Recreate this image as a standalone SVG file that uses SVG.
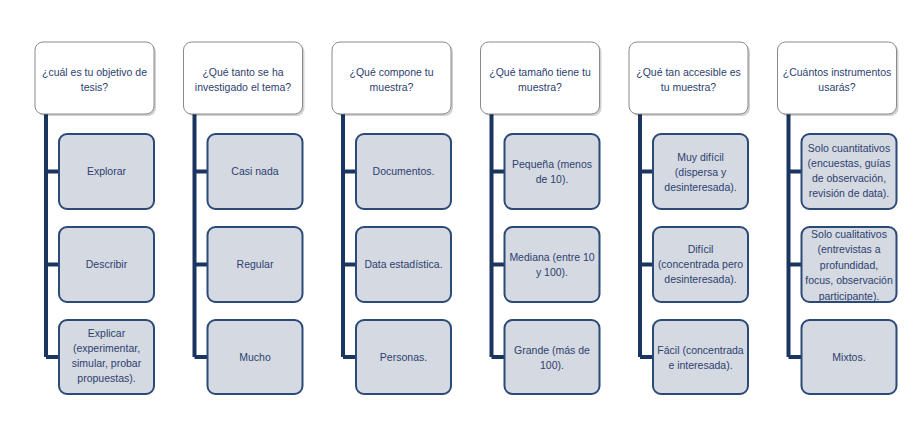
<svg xmlns="http://www.w3.org/2000/svg" width="924" height="425" viewBox="0 0 924 425">
<defs>
<style>
.hdr{fill:#ffffff;stroke:#8a8a8a;stroke-width:1}
.shd{fill:#000000;opacity:0.18}
.chl{fill:#d5d9e1;stroke:#2b4a78;stroke-width:2}
.t{font-family:"Liberation Sans",Arial,sans-serif;font-size:10.5px;fill:#2c4170;text-anchor:middle}
.ln{fill:none;stroke:#1a3560;stroke-width:4}
</style>
</defs>
<rect width="924" height="425" fill="#ffffff"/>
<g id="connectors">
<path class="ln" d="M46,114V357M46,171.5H59M46,264.5H59M46,357H59"/>
<path class="ln" d="M194.5,114V357M194.5,171.5H207.5M194.5,264.5H207.5M194.5,357H207.5"/>
<path class="ln" d="M343,114V357M343,171.5H356M343,264.5H356M343,357H356"/>
<path class="ln" d="M491.5,114V357M491.5,171.5H504.5M491.5,264.5H504.5M491.5,357H504.5"/>
<path class="ln" d="M640,114V357M640,171.5H653M640,264.5H653M640,357H653"/>
<path class="ln" d="M788.5,114V357M788.5,171.5H801.5M788.5,264.5H801.5M788.5,357H801.5"/>
</g>
<!-- column 1 -->
<g id="h1"><rect class="shd" x="37" y="44" width="119" height="72" rx="8"/><rect class="hdr" x="35" y="42" width="119" height="72" rx="8"/>
<text class="t" x="94.5" y="76">¿cuál es tu objetivo de</text><text class="t" x="94.5" y="91">tesis?</text></g>
<g id="c1a"><rect class="chl" x="59" y="134" width="95" height="75" rx="8"/><text class="t" x="106.5" y="175">Explorar</text></g>
<g id="c1b"><rect class="chl" x="59" y="227" width="95" height="75" rx="8"/><text class="t" x="106.5" y="268">Describir</text></g>
<g id="c1c"><rect class="chl" x="59" y="320" width="95" height="74" rx="8"/>
<text class="t" x="106.5" y="337">Explicar</text><text class="t" x="106.5" y="352">(experimentar,</text><text class="t" x="106.5" y="367">simular, probar</text><text class="t" x="106.5" y="382">propuestas).</text></g>
<!-- column 2 -->
<g id="h2"><rect class="shd" x="185.5" y="44" width="119" height="72" rx="8"/><rect class="hdr" x="183.5" y="42" width="119" height="72" rx="8"/>
<text class="t" x="243" y="76">¿Qué tanto se ha</text><text class="t" x="243" y="91">investigado el tema?</text></g>
<g id="c2a"><rect class="chl" x="207.5" y="134" width="95" height="75" rx="8"/><text class="t" x="255" y="175">Casi nada</text></g>
<g id="c2b"><rect class="chl" x="207.5" y="227" width="95" height="75" rx="8"/><text class="t" x="255" y="268">Regular</text></g>
<g id="c2c"><rect class="chl" x="207.5" y="320" width="95" height="74" rx="8"/><text class="t" x="255" y="361">Mucho</text></g>
<!-- column 3 -->
<g id="h3"><rect class="shd" x="334" y="44" width="119" height="72" rx="8"/><rect class="hdr" x="332" y="42" width="119" height="72" rx="8"/>
<text class="t" x="391.5" y="76">¿Qué compone tu</text><text class="t" x="391.5" y="91">muestra?</text></g>
<g id="c3a"><rect class="chl" x="356" y="134" width="95" height="75" rx="8"/><text class="t" x="403.5" y="175">Documentos.</text></g>
<g id="c3b"><rect class="chl" x="356" y="227" width="95" height="75" rx="8"/><text class="t" x="403.5" y="268">Data estadística.</text></g>
<g id="c3c"><rect class="chl" x="356" y="320" width="95" height="74" rx="8"/><text class="t" x="403.5" y="361">Personas.</text></g>
<!-- column 4 -->
<g id="h4"><rect class="shd" x="482.5" y="44" width="119" height="72" rx="8"/><rect class="hdr" x="480.5" y="42" width="119" height="72" rx="8"/>
<text class="t" x="540" y="76">¿Qué tamaño tiene tu</text><text class="t" x="540" y="91">muestra?</text></g>
<g id="c4a"><rect class="chl" x="504.5" y="134" width="95" height="75" rx="8"/><text class="t" x="552" y="168">Pequeña (menos</text><text class="t" x="552" y="183">de 10).</text></g>
<g id="c4b"><rect class="chl" x="504.5" y="227" width="95" height="75" rx="8"/><text class="t" x="552" y="261">Mediana (entre 10</text><text class="t" x="552" y="276">y 100).</text></g>
<g id="c4c"><rect class="chl" x="504.5" y="320" width="95" height="74" rx="8"/><text class="t" x="552" y="354">Grande (más de</text><text class="t" x="552" y="369">100).</text></g>
<!-- column 5 -->
<g id="h5"><rect class="shd" x="631" y="44" width="119" height="72" rx="8"/><rect class="hdr" x="629" y="42" width="119" height="72" rx="8"/>
<text class="t" x="688.5" y="76">¿Qué tan accesible es</text><text class="t" x="688.5" y="91">tu muestra?</text></g>
<g id="c5a"><rect class="chl" x="653" y="134" width="95" height="75" rx="8"/><text class="t" x="700.5" y="161">Muy difícil</text><text class="t" x="700.5" y="176">(dispersa y</text><text class="t" x="700.5" y="191">desinteresada).</text></g>
<g id="c5b"><rect class="chl" x="653" y="227" width="95" height="75" rx="8"/><text class="t" x="700.5" y="253">Difícil</text><text class="t" x="700.5" y="268">(concentrada pero</text><text class="t" x="700.5" y="283">desinteresada).</text></g>
<g id="c5c"><rect class="chl" x="653" y="320" width="95" height="74" rx="8"/><text class="t" x="700.5" y="354">Fácil (concentrada</text><text class="t" x="700.5" y="369">e interesada).</text></g>
<!-- column 6 -->
<g id="h6"><rect class="shd" x="779.5" y="44" width="119" height="72" rx="8"/><rect class="hdr" x="777.5" y="42" width="119" height="72" rx="8"/>
<text class="t" x="837" y="76">¿Cuántos instrumentos</text><text class="t" x="837" y="91">usarás?</text></g>
<g id="c6a"><rect class="chl" x="801.5" y="134" width="95" height="75" rx="8"/><text class="t" x="849" y="152">Solo cuantitativos</text><text class="t" x="849" y="167">(encuestas, guías</text><text class="t" x="849" y="182">de observación,</text><text class="t" x="849" y="197">revisión de data).</text></g>
<g id="c6b"><rect class="chl" x="801.5" y="227" width="95" height="75" rx="8"/><text class="t" x="849" y="238">Solo cualitativos</text><text class="t" x="849" y="253">(entrevistas a</text><text class="t" x="849" y="268.5">profundidad,</text><text class="t" x="849" y="284">focus, observación</text><text class="t" x="849" y="299.5">participante).</text></g>
<g id="c6c"><rect class="chl" x="801.5" y="320" width="95" height="74" rx="8"/><text class="t" x="849" y="361">Mixtos.</text></g>
</svg>
